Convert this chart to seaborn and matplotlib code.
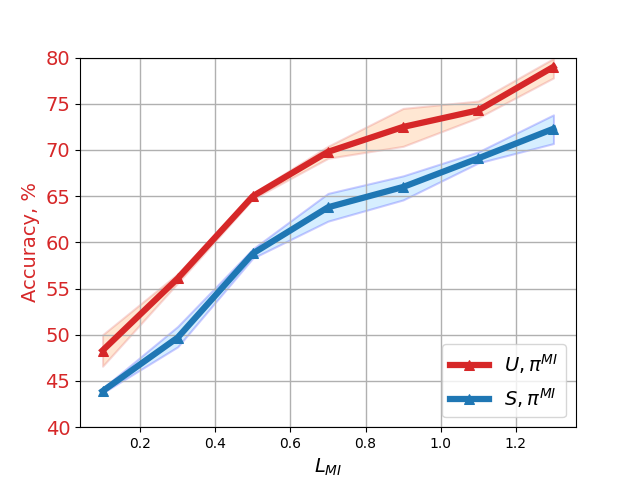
import matplotlib
matplotlib.use("Agg")
import matplotlib.pyplot as plt
import pandas as pd
import seaborn as sns

# L_MI values and accuracies (%)
l_mi = [0.1, 0.3, 0.5, 0.7, 0.9, 1.1, 1.3]
u_mean = [48.3, 56.1, 65.0, 69.8, 72.5, 74.3, 79.0]
u_low = [46.6, 55.6, 64.7, 69.1, 70.4, 73.5, 77.8]
u_high = [50.0, 56.6, 65.3, 70.4, 74.5, 75.3, 79.9]
s_mean = [43.9, 49.7, 58.8, 63.8, 66.0, 69.1, 72.3]
s_low = [43.7, 48.7, 58.3, 62.3, 64.6, 68.6, 70.7]
s_high = [44.2, 50.9, 59.3, 65.3, 67.2, 69.8, 73.8]

df = pd.DataFrame({"L_MI": l_mi, "U": u_mean, "S": s_mean})

fig, ax = plt.subplots(figsize=(6.4, 4.8), dpi=100)

ax.fill_between(l_mi, u_low, u_high, facecolor="tab:orange", edgecolor="tab:red",
                alpha=0.18, linewidth=1.5)
ax.fill_between(l_mi, s_low, s_high, facecolor="#33aaff", edgecolor="blue",
                alpha=0.2, linewidth=1.5)

sns.lineplot(data=df, x="L_MI", y="U", ax=ax, color="tab:red", linewidth=4.5,
             marker="^", markersize=7, markeredgecolor="tab:red",
             label=r"$U, \pi^{MI}$")
sns.lineplot(data=df, x="L_MI", y="S", ax=ax, color="tab:blue", linewidth=4.5,
             marker="^", markersize=7, markeredgecolor="tab:blue",
             label=r"$S, \pi^{MI}$")

ax.set_ylim(40, 80)
ax.grid(True, color="#b0b0b0", linewidth=1.0)
ax.set_xlabel(r"$L_{MI}$", fontsize=14)
ax.set_ylabel("Accuracy, %", fontsize=14, color="tab:red")
ax.tick_params(axis="y", labelsize=14, labelcolor="tab:red")
ax.tick_params(axis="x", labelsize=10)
ax.legend(loc="lower right", fontsize=14)

fig.savefig("out.png", dpi=100)
